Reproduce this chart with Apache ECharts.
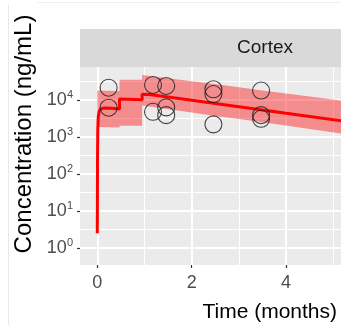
<!DOCTYPE html>
<html><head><meta charset="utf-8">
<script src="https://cdn.jsdelivr.net/npm/echarts@6/dist/echarts.min.js"></script>
<style>html,body{margin:0;padding:0;background:#fff;}#c{width:341px;height:325px;}</style>
</head><body><div id="c"></div>
<script>
// ---- data ----
const panelTitle = 'Cortex';
const xTitle = 'Time (months)';
const yTitle = 'Concentration (ng/mL)';
const xTickValues = [0, 2, 4];
const yTickExponents = [0, 1, 2, 3, 4];

// observed concentrations (open circles)
const obsTime = [0.24, 0.24, 1.18, 1.18, 1.46, 1.46, 1.46, 2.46, 2.46, 2.46, 3.47, 3.47, 3.47];
const obsConc = [21500, 6200, 25500, 4800, 24000, 6300, 3900, 19500, 14500, 2200, 18000, 3900, 3100];

// model prediction (red line)
const predTime = [0, 0.005, 0.01, 0.02, 0.04, 0.08, 0.15, 0.3, 0.47, 0.47, 0.95, 0.95, 1.1, 1.5, 2, 2.5, 3, 3.5, 4, 4.5, 5.2];
const predConc = [2.5, 300, 1500, 3500, 5000, 5800, 6100, 6000, 5700, 10700, 10200, 14200, 14000, 12000, 9800, 8000, 6600, 5400, 4400, 3600, 2700];

// prediction interval (ribbon)
const bandTime = [0, 0.47, 0.47, 0.95, 0.95, 1.5, 2, 2.5, 3, 3.5, 4, 4.5, 5.2];
const bandLow  = [1850, 1800, 2000, 2000, 7100, 5600, 4600, 3700, 3050, 2500, 2050, 1650, 1230];
const bandHigh = [18000, 17500, 35000, 35000, 47500, 39000, 32000, 27000, 22000, 18200, 15000, 12500, 9500];

// ---- layout ----
const W = 341, H = 325;
const panel = {left: 80, top: 67, right: W, bottom: 265};
const x0px = 97.3, pxPerMonth = 47.2;      // x pixel of t=0, px per month
const y0px = 248, pxPerDecade = 37;         // y pixel of 10^0, px per decade
const tAt = px => (px - x0px) / pxPerMonth;
const lAt = py => (y0px - py) / pxPerDecade;
const xMinorMax = 5, xMajorMax = 4;

const FONT = 'Liberation Sans, Arial, sans-serif';
const chart = echarts.init(document.getElementById('c'), null, {renderer: 'canvas'});

const hidden = {show: false};
const option = {
  animation: false,
  textStyle: {fontFamily: FONT},
  grid: [
    // 0: data panel
    {left: panel.left, right: W - panel.right, top: panel.top, bottom: H - panel.bottom},
    // 1: vertical minor grid lines (t 0..5)
    {left: x0px, right: W - (x0px + xMinorMax * pxPerMonth), top: panel.top, bottom: H - panel.bottom},
    // 2: vertical major grid lines + x ticks (t 0..4)
    {left: x0px, right: W - (x0px + xMajorMax * pxPerMonth), top: panel.top, bottom: H - panel.bottom},
    // 3: horizontal minor lines (log -0.5 .. 5)
    {left: panel.left, right: W - panel.right, top: y0px - 5 * pxPerDecade, bottom: H - (y0px + 0.5 * pxPerDecade)},
    // 4: horizontal major lines + y ticks (log 0 .. 4)
    {left: panel.left, right: W - panel.right, top: y0px - 4 * pxPerDecade, bottom: H - y0px}
  ],
  xAxis: [
    {gridIndex: 0, type: 'value', min: tAt(panel.left), max: tAt(panel.right), show: false},
    {gridIndex: 1, type: 'value', min: 0, max: xMinorMax, interval: 1,
      axisLine: hidden, axisTick: hidden, axisLabel: hidden,
      splitLine: {show: true, lineStyle: {color: '#FFFFFF', width: 1}}},
    {gridIndex: 2, type: 'value', min: 0, max: xMajorMax, interval: 2,
      axisLine: hidden,
      axisTick: {show: true, length: 3, lineStyle: {color: '#333333', width: 1.2}},
      axisLabel: {show: true, color: '#4D4D4D', fontSize: 18, margin: 9, fontFamily: FONT,
        formatter: v => (xTickValues.indexOf(v) >= 0 ? String(v) : '')},
      splitLine: {show: true, lineStyle: {color: '#FFFFFF', width: 2}}},
    {gridIndex: 3, type: 'value', show: false},
    {gridIndex: 4, type: 'value', show: false}
  ],
  yAxis: [
    {gridIndex: 0, type: 'log', logBase: 10, min: Math.pow(10, lAt(panel.bottom)), max: Math.pow(10, lAt(panel.top)), show: false},
    {gridIndex: 1, type: 'value', show: false},
    {gridIndex: 2, type: 'value', show: false},
    {gridIndex: 3, type: 'value', min: -0.5, max: 5, interval: 0.5,
      axisLine: hidden, axisTick: hidden, axisLabel: hidden,
      splitLine: {show: true, showMinLine: false, showMaxLine: false, lineStyle: {color: '#FFFFFF', width: 1}}},
    {gridIndex: 4, type: 'value', min: 0, max: 4, interval: 1,
      axisLine: hidden,
      axisTick: {show: true, length: 3, lineStyle: {color: '#333333', width: 1.2}},
      axisLabel: {show: true, margin: 7, color: '#4D4D4D',
        formatter: v => (yTickExponents.indexOf(v) >= 0 ? '{a|10}{b|' + v + '}' : ''),
        rich: {
          a: {fontSize: 18, color: '#4D4D4D', fontFamily: FONT},
          b: {fontSize: 11, color: '#4D4D4D', fontFamily: FONT, verticalAlign: 'top', padding: [0, 0, 10, 0]}
        }},
      splitLine: {show: true, lineStyle: {color: '#FFFFFF', width: 2}}}
  ],
  series: [
    {
      type: 'custom', name: 'interval', xAxisIndex: 0, yAxisIndex: 0, z: 2, silent: true, clip: true,
      data: bandTime.map((t, i) => [t, bandLow[i], bandHigh[i]]),
      encode: {x: 0, y: [1, 2]},
      renderItem: function (params, api) {
        if (params.dataIndex !== 0) return null;
        const pts = [];
        for (let i = 0; i < bandTime.length; i++) pts.push(api.coord([bandTime[i], bandHigh[i]]));
        for (let i = bandTime.length - 1; i >= 0; i--) pts.push(api.coord([bandTime[i], bandLow[i]]));
        return {type: 'polygon', shape: {points: pts}, style: {fill: 'rgba(255,0,0,0.4)'}};
      }
    },
    {
      type: 'line', name: 'prediction', xAxisIndex: 0, yAxisIndex: 0, z: 3,
      data: predTime.map((t, i) => [t, predConc[i]]),
      showSymbol: false, symbol: 'none', clip: true,
      lineStyle: {color: '#FF0000', width: 3}
    },
    {
      type: 'scatter', name: 'observed', xAxisIndex: 0, yAxisIndex: 0, z: 4,
      data: obsTime.map((t, i) => [t, obsConc[i]]),
      symbol: 'circle', symbolSize: 17,
      itemStyle: {color: 'rgba(0,0,0,0)', borderColor: '#1A1A1A', borderWidth: 1.1}
    }
  ],
  graphic: [
    {type: 'rect', z: -10, silent: true,
      shape: {x: panel.left, y: panel.top, width: panel.right - panel.left, height: panel.bottom - panel.top},
      style: {fill: '#EBEBEB'}},
    {type: 'rect', z: 50, silent: true,
      shape: {x: panel.left, y: 29, width: panel.right - panel.left, height: panel.top - 29},
      style: {fill: '#D9D9D9'}},
    {type: 'text', z: 51, x: 265, y: 48, silent: true,
      style: {text: panelTitle, fontSize: 19, fontFamily: FONT, fill: '#1A1A1A', align: 'center', verticalAlign: 'middle'}},
    {type: 'text', z: 51, x: 24, y: 134, rotation: Math.PI / 2, silent: true,
      style: {text: yTitle, fontSize: 24, fontFamily: FONT, fill: '#000000', align: 'center', verticalAlign: 'middle'}},
    {type: 'text', z: 51, x: 337, y: 312, silent: true,
      style: {text: xTitle, fontSize: 21, fontFamily: FONT, fill: '#000000', align: 'right', verticalAlign: 'middle'}},
    {type: 'line', z: 51, silent: true, shape: {x1: 8.5, y1: 5, x2: 8.5, y2: H}, style: {stroke: '#E8E8E8', lineWidth: 1}},
    {type: 'line', z: 51, silent: true, shape: {x1: 37, y1: 2.5, x2: W, y2: 2.5}, style: {stroke: '#F0F0F0', lineWidth: 1}}
  ]
};
chart.setOption(option);
</script>
</body></html>
